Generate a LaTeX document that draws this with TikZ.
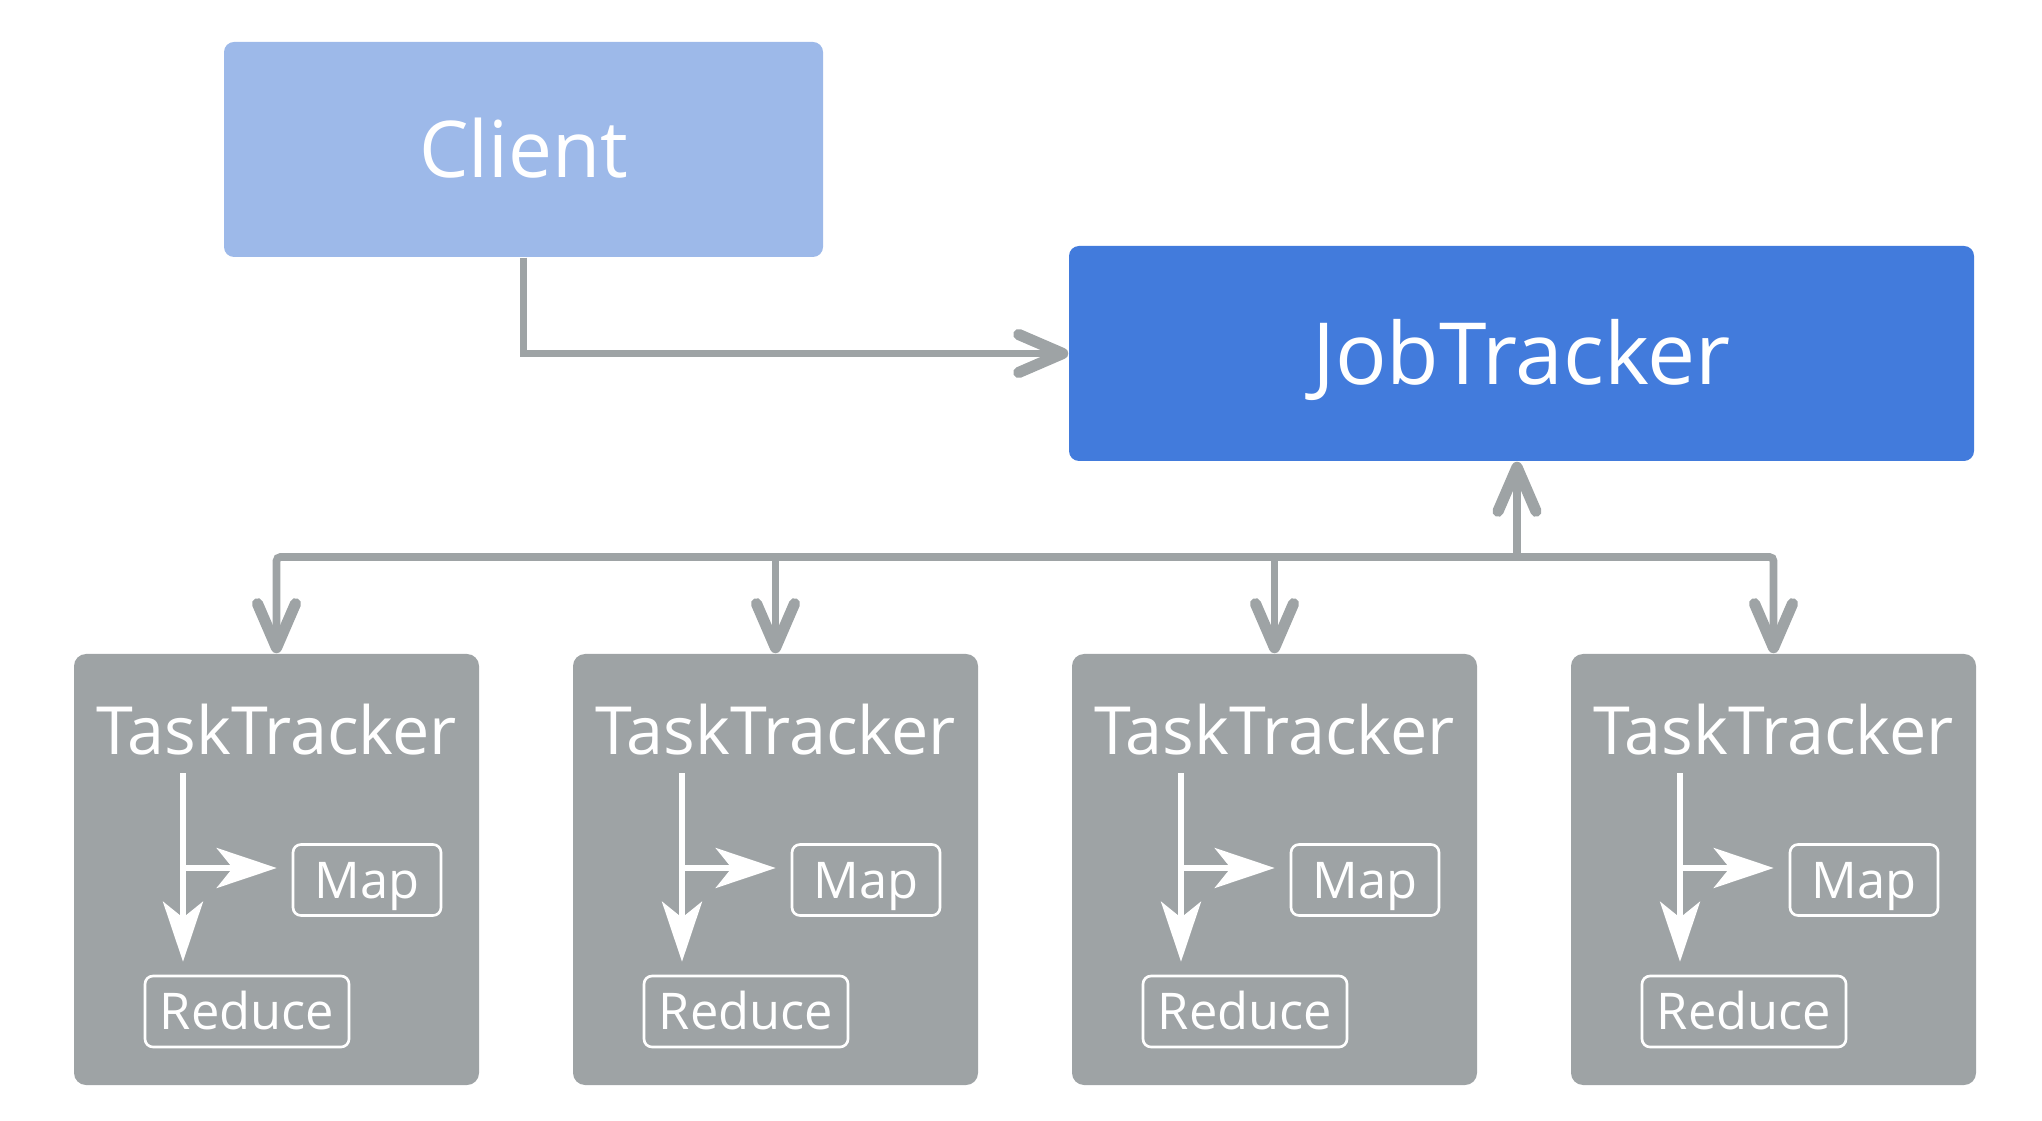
\documentclass[tikz,border=0pt]{standalone}
\usepackage{fontspec}
\setmainfont{Open Sans}
\usetikzlibrary{arrows.meta, positioning}

\definecolor{clientblue}{HTML}{9DB9E9}
\definecolor{jobblue}{HTML}{427BDC}
\definecolor{trackgray}{HTML}{9EA3A5}

\begin{document}
\begin{tikzpicture}[
    >={Straight Barb[length=0.44cm, width=0.38cm, line width=0pt 1.45, round]},
    client/.style={rectangle, fill=clientblue, rounded corners=0.1cm, inner sep=0pt,
        minimum width=5.99cm, minimum height=2.15cm, text=white,
        font=\fontsize{22.3pt}{26pt}\selectfont, text height=0.565cm, text depth=0pt},
    master/.style={rectangle, fill=jobblue, rounded corners=0.1cm, inner sep=0pt,
        minimum width=9.05cm, minimum height=2.15cm, text=white,
        font=\fontsize{24.4pt}{28pt}\selectfont, text height=0.615cm, text depth=0pt},
    tracker/.style={rectangle, fill=trackgray, rounded corners=0.12cm, inner sep=0pt,
        minimum width=4.05cm, minimum height=4.31cm},
    tlabel/.style={inner sep=0pt, text=white, font=\fontsize{18.9pt}{22pt}\selectfont},
    task/.style={rectangle, draw=white, line width=0.75pt, rounded corners=0.08cm, inner sep=0pt,
        minimum height=0.71cm, text=white,
        font=\fontsize{14.4pt}{17pt}\selectfont, text height=0.365cm, text depth=0pt},
    link/.style={draw=trackgray, line width=2.2pt},
    inner/.style={white, line width=1.5pt, -{Stealth[length=0.6cm, width=0.4cm, inset=0.16cm]}}
]

\path[use as bounding box] (0,0) rectangle (20.42,11.2);

\node[client] (client) at (5.235,9.705) {Client};
\node[master] (jt) at (15.215,7.665) {JobTracker};

\foreach \i/\x in {1/2.765, 2/7.755, 3/12.745, 4/17.735} {
    \node[tracker] (tt\i) at (\x,2.505) {};
    \node[tlabel, anchor=base] (tl\i) at ([yshift=1.145cm]tt\i.center) {TaskTracker};
    \node[task, minimum width=1.48cm] (map\i) at ([shift={(0.905,-0.105)}]tt\i.center) {Map};
    \node[task, minimum width=2.04cm] (red\i) at ([shift={(-0.295,-1.42)}]tt\i.center) {Reduce};
    \coordinate (top\i) at ([shift={(-0.935,0.965)}]tt\i.center);
    \coordinate (fork\i) at ([shift={(-0.935,0.015)}]tt\i.center);
    \draw[inner] (top\i) -- ([yshift=0.13cm]top\i |- red\i.north);
    \draw[inner] (fork\i) -- ([xshift=-0.15cm]fork\i -| map\i.west);
}

\coordinate (bus) at (15.17,5.63);

\draw[link, ->] (client.south) |- (jt.west);
\draw[link, ->] (bus) -- (bus |- jt.south);
\draw[link, <->, rounded corners=0.04cm] (tt1.north) |- (bus -| tt4.north) -- (tt4.north);
\draw[link, ->] (bus -| tt2.north) -- (tt2.north);
\draw[link, ->] (bus -| tt3.north) -- (tt3.north);

\end{tikzpicture}
\end{document}
